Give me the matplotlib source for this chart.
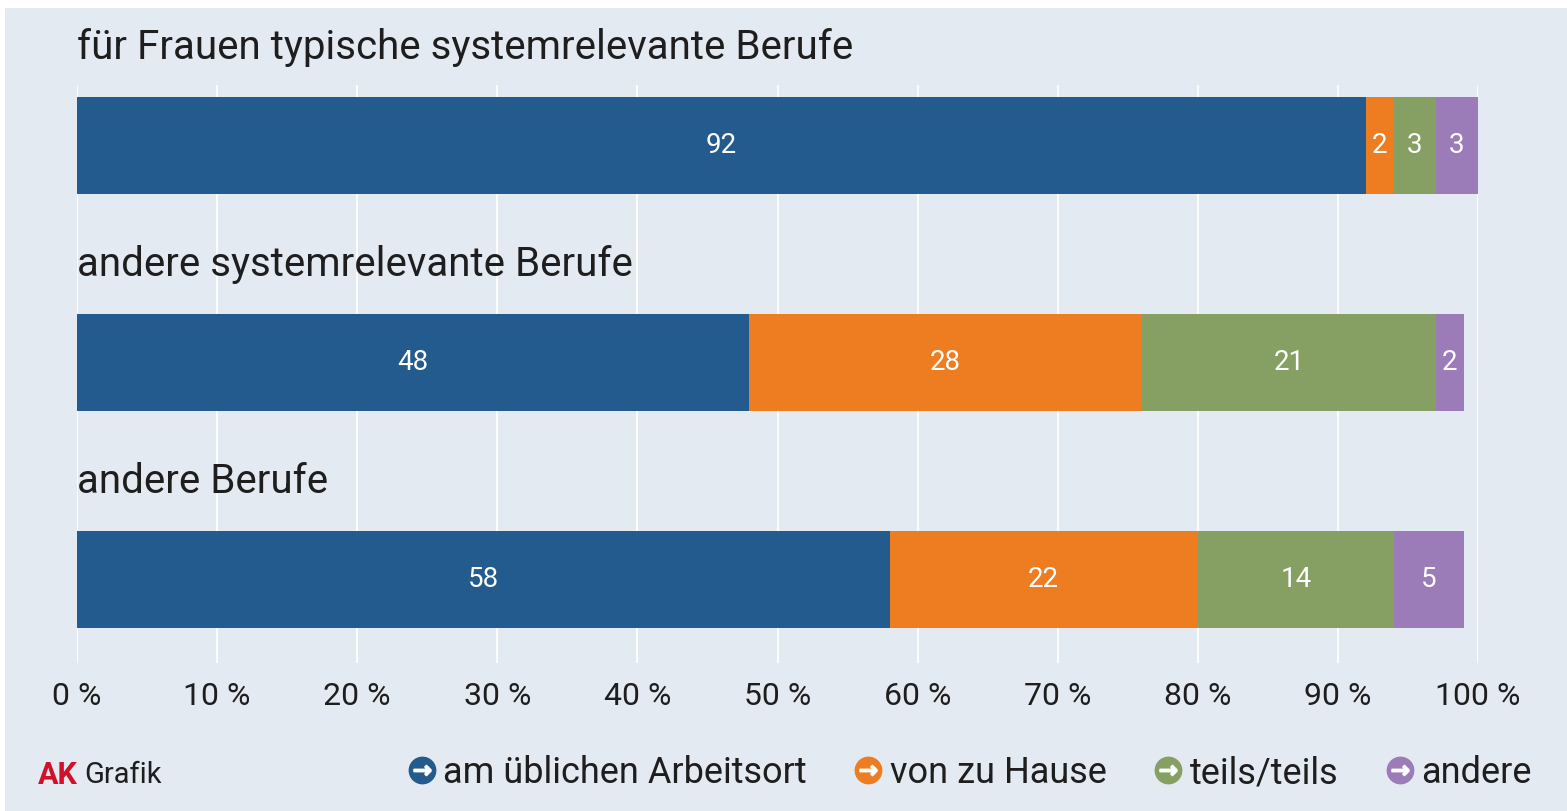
import matplotlib
matplotlib.use("Agg")
import matplotlib.pyplot as plt
from matplotlib.lines import Line2D
from matplotlib.legend_handler import HandlerTuple
import matplotlib.transforms as mtransforms
import numpy as np

# ---- data ----
categories = ["für Frauen typische systemrelevante Berufe",
              "andere systemrelevante Berufe",
              "andere Berufe"]
series_names = ["am üblichen Arbeitsort", "von zu Hause", "teils/teils", "andere"]
am_arbeitsort = [92, 48, 58]
von_zu_hause = [2, 28, 22]
teils_teils = [3, 21, 14]
andere = [3, 2, 5]
tick_values = [0, 10, 20, 30, 40, 50, 60, 70, 80, 90, 100]
tick_labels = [f"{v} %" for v in tick_values]

colors = ["#235b8e", "#ee7d22", "#86a063", "#9b7bb8"]
bg = "#e4eaf1"
txt = "#1e1e1e"
plt.rcParams['font.family'] = ["Roboto", "DejaVu Sans"]

W, H = 1567, 811
fig = plt.figure(figsize=(W / 100, H / 100), dpi=100)
fig.patch.set_facecolor("white")
fig.patches.append(matplotlib.patches.Rectangle((5 / W, 0), 1, 1 - 8 / H,
                   transform=fig.transFigure, facecolor=bg, edgecolor="none", zorder=-10))

left, right = 77 / W, 1478 / W
top, bottom = 1 - 85 / H, 1 - 663 / H
ax = fig.add_axes([left, bottom, right - left, top - bottom])
ax.set_facecolor("none")

series = [am_arbeitsort, von_zu_hause, teils_teils, andere]
y = np.arange(len(categories))
bar_h = 97 / 217
lefts = np.zeros(len(categories))
for vals, c in zip(series, colors):
    vals = np.array(vals, dtype=float)
    ax.barh(y, vals, left=lefts, height=bar_h, color=c, zorder=3, linewidth=0)
    for yi, l, v in zip(y, lefts, vals):
        ax.text(l + v / 2, yi, f"{int(v)}", ha="center", va="center",
                color="white", fontsize=20, zorder=4)
    lefts += vals

ax.set_xlim(0, 100)
ax.set_ylim(2 + 83.5 / 217, -60.5 / 217)
ax.set_xticks(tick_values)
ax.set_xticklabels(tick_labels, fontsize=23, color=txt)
ax.tick_params(axis="x", length=0, pad=14)
ax.set_yticks([])
ax.grid(axis="x", color="white", linewidth=1.3, zorder=0)
for s in ax.spines.values():
    s.set_visible(False)

tr = mtransforms.blended_transform_factory(ax.transAxes, ax.transData)
for yi, name in zip(y, categories):
    ax.text(0, yi - 86.5 / 217, name, ha="left", va="baseline",
            fontsize=29, color=txt, transform=tr)

# footer
fig.text(38 / W, 1 - 775 / H, "AK", color="#d2102a", fontsize=22, fontweight="bold", va="center", ha="left")
fig.text(84 / W, 1 - 775 / H, "Grafik", color=txt, fontsize=21, va="center", ha="left")

handles = []
for c in colors:
    circ = Line2D([], [], marker="o", linestyle="none", markersize=19, markerfacecolor=c, markeredgecolor=c)
    arr = Line2D([], [], marker=r"$\rightarrow$", linestyle="none", markersize=12,
                 markerfacecolor="white", markeredgecolor="white", markeredgewidth=1.4)
    handles.append((circ, arr))
fig.legend(handles, series_names, handler_map={tuple: HandlerTuple(ndivide=1)},
           loc="center right", bbox_to_anchor=(1532 / W, 1 - 773 / H), ncol=4, frameon=False,
           fontsize=26, handlelength=0.8, handletextpad=0.2, columnspacing=1.3,
           labelcolor=txt, borderaxespad=0, borderpad=0)

fig.savefig("out.png", dpi=100, facecolor=fig.get_facecolor())
